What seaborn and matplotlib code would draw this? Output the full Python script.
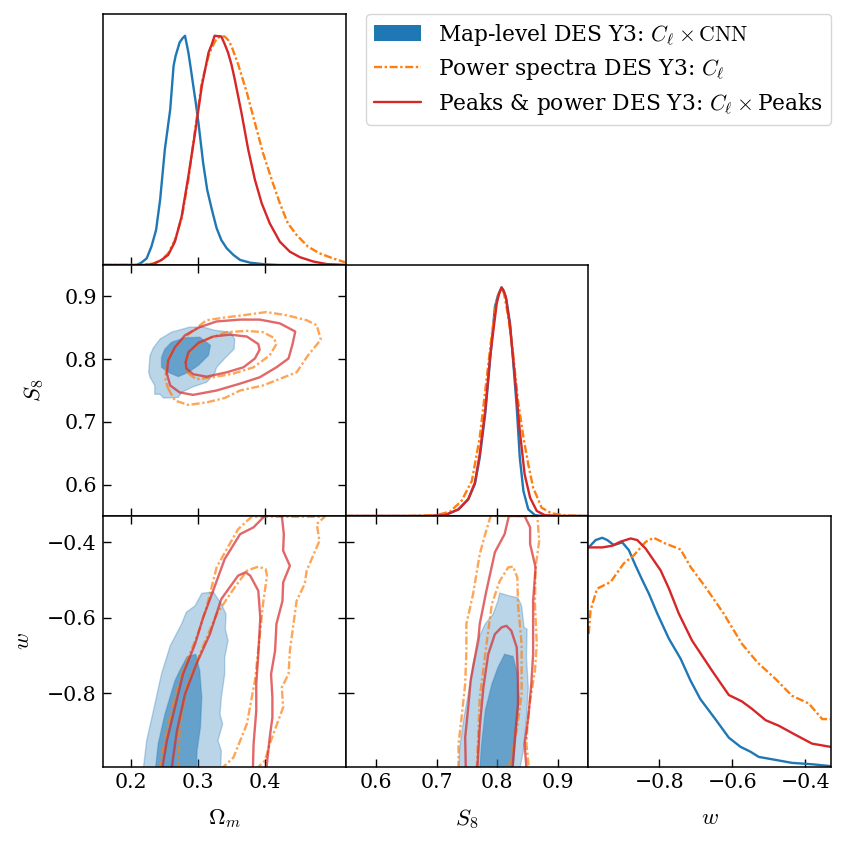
import matplotlib
matplotlib.use("Agg")
import matplotlib.pyplot as plt
from matplotlib.lines import Line2D
from matplotlib.patches import Patch
from matplotlib.colors import to_rgba
import seaborn as sns

# 1D posteriors
om_blue_x = [.16, .209, .216, .224, .231, .238, .244, .251, .259, .264, .267, .273, .277, .281, .283, .286, .289, .293, .297, .301, .308, .314, .321, .328, .335, .343, .353, .363, .378, .400, .422, .52]
om_blue_y = [0, 0, .010, .029, .080, .153, .285, .504, .679, .869, .912, .971, .988, 1, .971, .927, .869, .788, .708, .620, .445, .328, .241, .161, .109, .073, .044, .022, .010, .003, 0, 0]
om_red_x = [.16, .219, .234, .246, .256, .266, .276, .286, .296, .306, .316, .321, .325, .335, .340, .345, .350, .355, .365, .375, .385, .395, .407, .422, .437, .452, .472, .492, .519]
om_red_y = [0, 0, .004, .022, .044, .102, .212, .387, .577, .781, .927, .964, 1, .997, .964, .927, .876, .810, .664, .504, .372, .270, .182, .102, .058, .034, .015, .004, 0]
om_orange_x = [.16, .219, .234, .246, .256, .266, .276, .286, .296, .306, .316, .321, .328, .334, .340, .345, .350, .360, .373, .385, .397, .410, .422, .434, .447, .464, .481, .501, .519]
om_orange_y = [0, 0, .007, .022, .051, .109, .204, .372, .591, .796, .912, .949, .988, .997, .997, .982, .956, .876, .752, .620, .489, .372, .270, .182, .131, .080, .051, .029, .012]

s8_blue_x = [.55, .686, .714, .736, .752, .763, .771, .780, .788, .796, .801, .807, .811, .815, .821, .826, .832, .837, .843, .851, .862, .873, .95]
s8_blue_y = [0, 0, .004, .029, .073, .139, .255, .445, .679, .912, .963, .997, .978, .942, .839, .679, .474, .255, .109, .029, .004, 0, 0]
s8_red_x = [.55, .686, .714, .736, .752, .763, .771, .780, .788, .799, .803, .807, .810, .814, .821, .829, .837, .845, .854, .865, .878, .900, .95]
s8_red_y = [0, 0, .004, .029, .073, .146, .270, .460, .693, .927, .971, .997, .985, .956, .825, .606, .372, .182, .080, .022, .004, 0, 0]
s8_orange_x = [.55, .653, .700, .722, .741, .758, .771, .782, .791, .799, .803, .807, .811, .818, .826, .834, .843, .851, .859, .873, .889, .911, .944]
s8_orange_y = [0, 0, .004, .019, .066, .153, .343, .591, .796, .942, .971, .997, .971, .869, .708, .504, .343, .226, .124, .036, .012, .003, 0]

w_blue_x = [-.994, -.975, -.957, -.943, -.925, -.902, -.884, -.866, -.847, -.829, -.806, -.774, -.742, -.715, -.688, -.647, -.610, -.578, -.551, -.528, -.482, -.437, -.382, -.332]
w_blue_y = [.958, .990, 1, .990, .968, .980, .946, .880, .815, .756, .669, .559, .472, .377, .296, .209, .128, .088, .067, .044, .031, .018, .012, .004]
w_red_x = [-.994, -.957, -.930, -.907, -.879, -.861, -.838, -.797, -.774, -.747, -.711, -.656, -.610, -.574, -.546, -.509, -.473, -.427, -.382, -.332]
w_red_y = [.958, .958, .965, .983, .997, .990, .953, .858, .778, .669, .552, .420, .314, .286, .253, .204, .180, .140, .102, .088]
w_orange_x = [-.994, -.989, -.971, -.934, -.898, -.870, -.838, -.816, -.784, -.742, -.715, -.674, -.624, -.574, -.532, -.482, -.437, -.391, -.354, -.332]
w_orange_y = [.581, .683, .778, .807, .888, .924, .982, 1, .975, .949, .873, .785, .669, .537, .457, .384, .311, .277, .209, .209]

# Omega_m - S8 contours
os_blue_out_x = [.227, .229, .234, .244, .261, .288, .308, .325, .348, .355, .354, .340, .328, .325, .313, .293, .276, .271, .249, .244, .236, .236, .229]
os_blue_out_y = [.779, .806, .818, .832, .843, .851, .851, .846, .843, .832, .816, .801, .787, .777, .763, .756, .747, .739, .738, .744, .744, .758, .771]
os_blue_in_x = [.246, .251, .261, .281, .303, .319, .316, .301, .286, .271, .256, .246]
os_blue_in_y = [.803, .816, .827, .834, .835, .822, .806, .790, .779, .772, .779, .787]
os_red_out_x = [.254, .256, .266, .281, .303, .328, .363, .392, .422, .445, .441, .435, .417, .392, .363, .328, .293, .273, .259, .254]
os_red_out_y = [.777, .798, .819, .838, .851, .860, .863, .863, .857, .844, .824, .801, .787, .771, .761, .750, .743, .747, .758, .777]
os_red_in_x = [.282, .286, .301, .323, .348, .373, .390, .392, .385, .368, .343, .313, .293, .283, .282]
os_red_in_y = [.795, .811, .826, .836, .839, .836, .824, .815, .801, .787, .779, .772, .776, .785, .795]
os_orange_out_x = [.256, .266, .286, .313, .340, .363, .397, .447, .464, .483, .477, .462, .432, .402, .368, .338, .313, .296, .276, .259, .253, .252, .256]
os_orange_out_y = [.753, .734, .727, .731, .738, .750, .758, .779, .806, .831, .854, .862, .870, .875, .870, .866, .862, .848, .830, .808, .787, .766, .753]
os_orange_in_x = [.286, .298, .323, .353, .383, .407, .417, .413, .397, .373, .343, .318, .298, .284, .282, .286]
os_orange_in_y = [.777, .768, .771, .777, .787, .806, .824, .834, .843, .845, .843, .834, .822, .803, .790, .777]

# Omega_m - w contours
ow_blue_out_x = [.219, .224, .234, .246, .259, .276, .283, .296, .306, .323, .335, .342, .341, .345, .340, .340, .335, .333, .337, .330, .335, .334]
ow_blue_out_y = [-1, -.925, -.846, -.749, -.674, -.616, -.585, -.568, -.535, -.531, -.563, -.590, -.630, -.660, -.705, -.749, -.811, -.855, -.881, -.925, -.952, -1]
ow_blue_in_x = [.237, .241, .251, .266, .273, .284, .297, .303, .306, .304, .299, .298]
ow_blue_in_y = [-1, -.934, -.855, -.766, -.740, -.703, -.696, -.740, -.811, -.890, -.952, -1]
ow_red_out_x = [.247, .254, .266, .278, .296, .308, .321, .340, .363, .383, .400, .425, .428, .427, .437, .427, .426, .417, .415, .409, .411, .411, .407, .402]
ow_red_out_y = [-1, -.925, -.837, -.749, -.669, -.599, -.537, -.444, -.378, -.360, -.329, -.329, -.378, -.422, -.462, -.506, -.555, -.616, -.687, -.749, -.811, -.864, -.917, -1]
ow_red_in_x = [.261, .269, .281, .298, .318, .335, .360, .371, .378, .390, .393, .390, .387, .387, .383, .382]
ow_red_in_y = [-1, -.899, -.802, -.722, -.643, -.550, -.488, -.479, -.488, -.528, -.599, -.696, -.775, -.846, -.934, -1]
ow_orange_out_x = [.243, .252, .262, .278, .300, .313, .328, .350, .360, .380, .489, .477, .481, .462, .459, .447, .437, .435, .425, .427, .407, .400, .387]
ow_orange_out_y = [-1, -.917, -.837, -.740, -.643, -.572, -.466, -.396, -.365, -.332, -.332, -.351, -.396, -.475, -.510, -.555, -.687, -.749, -.784, -.837, -.934, -.978, -1]
ow_orange_in_x = [.271, .273, .283, .303, .328, .353, .373, .390, .401, .403, .397, .391, .385, .373, .353, .335]
ow_orange_in_y = [-1, -.890, -.784, -.696, -.590, -.524, -.475, -.464, -.471, -.488, -.563, -.669, -.766, -.881, -.970, -1]

# S8 - w contours
sw_blue_out_x = [.736, .738, .745, .755, .760, .769, .771, .780, .793, .801, .804, .818, .834, .840, .844, .849, .848, .851, .848, .843, .837]
sw_blue_out_y = [-1, -.943, -.864, -.775, -.722, -.669, -.647, -.616, -.590, -.555, -.534, -.541, -.547, -.568, -.625, -.630, -.705, -.784, -.864, -.952, -1]
sw_blue_in_x = [.771, .774, .780, .791, .801, .812, .826, .832, .836, .832, .826]
sw_blue_in_y = [-1, -.934, -.846, -.775, -.731, -.696, -.702, -.740, -.811, -.890, -1]
sw_red_out_x = [.748, .747, .752, .756, .763, .769, .771, .782, .796, .812, .819, .845, .854, .854, .863, .859, .859, .859, .856, .851, .845, .848]
sw_red_out_y = [-1, -.917, -.837, -.766, -.705, -.652, -.616, -.528, -.426, -.378, -.330, -.330, -.360, -.404, -.466, -.555, -.625, -.696, -.775, -.864, -.934, -1]
sw_red_in_x = [.767, .771, .777, .785, .796, .807, .815, .823, .832, .834, .834, .829, .825]
sw_red_in_y = [-1, -.890, -.784, -.696, -.643, -.625, -.621, -.634, -.678, -.758, -.828, -.917, -1]
sw_orange_out_x = [.736, .736, .741, .747, .749, .749, .760, .771, .780, .789, .866, .869, .863, .862, .865, .862, .854, .850, .848, .852]
sw_orange_out_y = [-1, -.934, -.864, -.775, -.687, -.616, -.537, -.431, -.378, -.330, -.330, -.396, -.466, -.563, -.669, -.740, -.819, -.872, -.934, -1]
sw_orange_in_x = [.766, .769, .771, .780, .791, .804, .818, .826, .833, .834, .840, .840, .832, .823, .818]
sw_orange_in_y = [-1, -.890, -.811, -.696, -.563, -.502, -.466, -.464, -.493, -.563, -.669, -.802, -.899, -.970, -1]

om_ticks = [.2, .3, .4]
s8_ticks = [.6, .7, .8, .9]
w_ticks = [-.8, -.6, -.4]
om_lim = (.159, .52)
s8_lim = (.55, .95)
w_lim = (-.995, -.33)
pdf_lim = (0, 1.095)

blue = "#1f77b4"
orange = "#ff7f0e"
red = "#d62728"
dashdot = (0, (3.4, 1.1, 1, 1.1))

sns.set_style("ticks")
plt.rcParams["font.family"] = ["DejaVu Serif"]
plt.rcParams["mathtext.fontset"] = "cm"
plt.rcParams["axes.linewidth"] = 1.1
plt.rcParams["axes.edgecolor"] = "black"
plt.rcParams["xtick.color"] = "black"
plt.rcParams["ytick.color"] = "black"
plt.rcParams["text.color"] = "black"
plt.rcParams["axes.labelcolor"] = "black"


def line(ax, x, y, color, ls="-", lw=1.7, alpha=1.0):
    sns.lineplot(x=x, y=y, ax=ax, sort=False, estimator=None, color=color,
                 linestyle=ls, linewidth=lw, alpha=alpha, legend=False)


def filled(ax, x, y, alpha):
    ax.fill(x, y, facecolor=to_rgba(blue, alpha), edgecolor=to_rgba(blue, .3), linewidth=1)


def pair(ax, b_out, b_in, o_out, o_in, r_out, r_in):
    filled(ax, *b_out, .3)
    filled(ax, *b_in, .55)
    line(ax, *o_out, orange, dashdot, alpha=.7)
    line(ax, *o_in, orange, dashdot, alpha=.7)
    line(ax, *r_out, red, "-", alpha=.7)
    line(ax, *r_in, red, "-", alpha=.7)


def diag(ax, b, o, r):
    line(ax, *b, blue)
    line(ax, *o, orange, dashdot)
    line(ax, *r, red)


fig = plt.figure(figsize=(8.46, 8.44), dpi=100)
gs = fig.add_gridspec(3, 3, left=103 / 846, right=831 / 846, top=1 - 14 / 844,
                      bottom=1 - 767 / 844, wspace=0, hspace=0)

ax00 = fig.add_subplot(gs[0, 0])
ax10 = fig.add_subplot(gs[1, 0])
ax11 = fig.add_subplot(gs[1, 1])
ax20 = fig.add_subplot(gs[2, 0])
ax21 = fig.add_subplot(gs[2, 1])
ax22 = fig.add_subplot(gs[2, 2])

diag(ax00, (om_blue_x, om_blue_y), (om_orange_x, om_orange_y), (om_red_x, om_red_y))
diag(ax11, (s8_blue_x, s8_blue_y), (s8_orange_x, s8_orange_y), (s8_red_x, s8_red_y))
diag(ax22, (w_blue_x, w_blue_y), (w_orange_x, w_orange_y), (w_red_x, w_red_y))

pair(ax10, (os_blue_out_x, os_blue_out_y), (os_blue_in_x, os_blue_in_y),
     (os_orange_out_x, os_orange_out_y), (os_orange_in_x, os_orange_in_y),
     (os_red_out_x, os_red_out_y), (os_red_in_x, os_red_in_y))
pair(ax20, (ow_blue_out_x, ow_blue_out_y), (ow_blue_in_x, ow_blue_in_y),
     (ow_orange_out_x, ow_orange_out_y), (ow_orange_in_x, ow_orange_in_y),
     (ow_red_out_x, ow_red_out_y), (ow_red_in_x, ow_red_in_y))
pair(ax21, (sw_blue_out_x, sw_blue_out_y), (sw_blue_in_x, sw_blue_in_y),
     (sw_orange_out_x, sw_orange_out_y), (sw_orange_in_x, sw_orange_in_y),
     (sw_red_out_x, sw_red_out_y), (sw_red_in_x, sw_red_in_y))

for ax, xl, yl, xt, yt in [
    (ax00, om_lim, pdf_lim, om_ticks, []),
    (ax11, s8_lim, pdf_lim, s8_ticks, []),
    (ax22, w_lim, pdf_lim, w_ticks, []),
    (ax10, om_lim, s8_lim, om_ticks, s8_ticks),
    (ax20, om_lim, w_lim, om_ticks, w_ticks[::-1]),
    (ax21, s8_lim, w_lim, s8_ticks, w_ticks[::-1]),
]:
    ax.set_xlim(xl)
    ax.set_ylim(yl)
    ax.set_xticks(xt)
    ax.set_yticks(yt)
    off_diag = len(yt) > 0
    ax.tick_params(direction="in", length=5.8, width=1, labelsize=14.8, pad=4.5,
                   top=off_diag, right=off_diag, left=off_diag, bottom=True,
                   labelbottom=False, labelleft=False)
    ax.set_xlabel("")
    ax.set_ylabel("")

ax10.tick_params(labelleft=True)
ax20.tick_params(labelleft=True, labelbottom=True)
ax21.tick_params(labelbottom=True)
ax22.tick_params(labelbottom=True)

ax10.set_ylabel(r"$S_8$", fontsize=16.5)
ax10.yaxis.set_label_coords(-.235, .5)
ax20.set_ylabel(r"$w$", fontsize=16.5)
ax20.yaxis.set_label_coords(-.284, .5)
for ax, lab in [(ax20, r"$\Omega_m$"), (ax21, r"$S_8$"), (ax22, r"$w$")]:
    ax.set_xlabel(lab, fontsize=16.5)
    ax.xaxis.set_label_coords(.5, -.159)

handles = [
    Patch(facecolor=blue, edgecolor=blue, linewidth=0),
    Line2D([], [], color=orange, linestyle=dashdot, linewidth=1.7),
    Line2D([], [], color=red, linestyle="-", linewidth=1.7),
]
labels = [
    r"Map-level DES Y3: $C_\ell \times \mathrm{CNN}$",
    r"Power spectra DES Y3: $C_\ell$",
    r"Peaks & power DES Y3: $C_\ell \times$Peaks",
]
fig.legend(handles, labels, loc="upper right", bbox_to_anchor=(831 / 846, 1 - 14 / 844),
           fontsize=15.7, frameon=True, handlelength=2.15, handletextpad=.8,
           borderpad=.35, labelspacing=.42, borderaxespad=0, fancybox=True,
           framealpha=.8, edgecolor="0.8")

fig.savefig("out.png", dpi=100)
